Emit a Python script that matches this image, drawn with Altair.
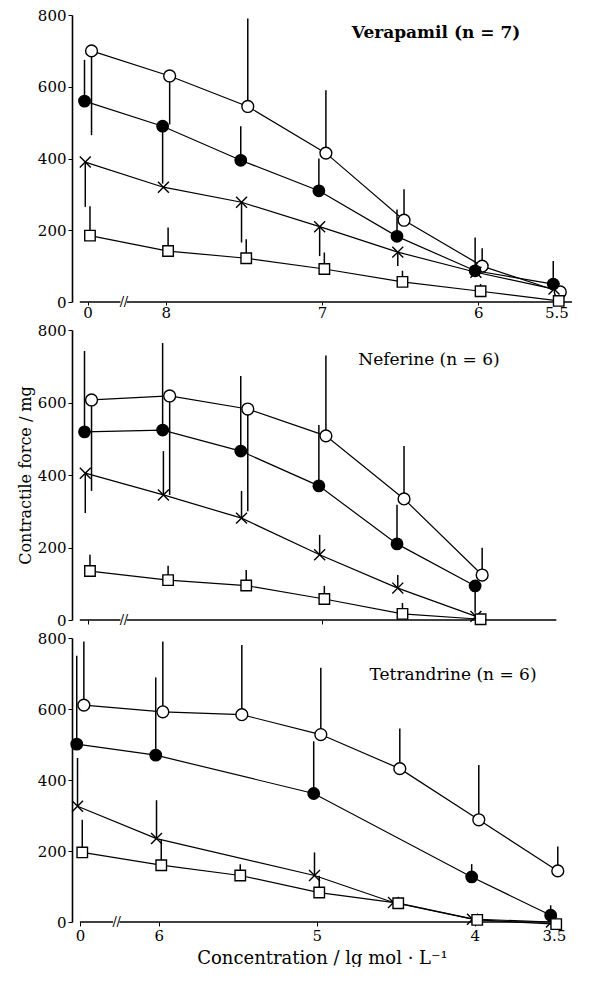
import altair as alt
import pandas as pd

FONT = "DejaVu Serif"
SERIES = ["open", "filled", "cross", "square"]

# ---------------- Verapamil (n = 7) ----------------
V_TITLE = "Verapamil (n = 7)"
V_POS = [0, 1, 2, 3, 4, 5, 6]
V_LABELS = ["0", "8", "", "7", "", "6", "5.5"]
V_OPEN = [700, 630, 545, 415, 228, 100, 28]
V_OPEN_END = [465, 495, 790, 590, 314, 150, None]
V_FILLED = [560, 490, 395, 310, 183, 87, 50]
V_FILLED_END = [675, 330, 490, 400, 258, 180, 114]
V_CROSS = [390, 320, 278, 210, 139, 83, 36]
V_CROSS_END = [265, None, 166, 128, 100, None, None]
V_SQUARE = [185, 142, 122, 92, 56, 30, 3]
V_SQUARE_END = [267, 208, 175, 138, 87, 50, None]

# ---------------- Neferine (n = 6) ----------------
N_TITLE = "Neferine (n = 6)"
N_POS = [0, 1, 2, 3, 4, 5]
N_LABELS = ["", "", "", "", "", ""]
N_OPEN = [607, 618, 582, 508, 334, 124]
N_OPEN_END = [356, 345, 300, 730, 480, 199]
N_FILLED = [519, 524, 466, 370, 210, 94]
N_FILLED_END = [742, 764, 673, 538, 318, 20]
N_CROSS = [405, 345, 281, 180, 88, 10]
N_CROSS_END = [295, 466, 356, 235, 124, None]
N_SQUARE = [135, 110, 95, 58, 17, 2]
N_SQUARE_END = [180, 150, 138, 94, 47, None]

# ---------------- Tetrandrine (n = 6) ----------------
T_TITLE = "Tetrandrine (n = 6)"
T_POS = [0, 1, 2, 3, 4, 5, 6]
T_LABELS = ["0", "6", "", "5", "", "4", "3.5"]
T_OPEN = [611, 592, 584, 528, 432, 288, 144]
T_OPEN_END = [790, 790, 780, 716, 545, 442, 213]
T_FILLED = [501, 470, None, 362, None, 127, 19]
T_FILLED_END = [750, 689, None, 509, None, 163, 47]
T_CROSS = [326, 235, None, 131, 55, 8, 0]
T_CROSS_END = [462, 343, None, 196, None, None, None]
T_SQUARE = [196, 160, 131, 83, 53, 6, -6]
T_SQUARE_END = [288, 232, 163, 130, None, None, None]

Y_TICKS = [0, 200, 400, 600, 800]
Y_TITLE = "Contractile force / mg"
X_TITLE = "Concentration / lg mol · L⁻¹"

# styling (not data)
SHIFT = {"open": 0.05, "filled": -0.04, "cross": -0.03, "square": 0.03}
SHAPES = ["circle", "circle", "M-1,-1L1,1M-1,1L1,-1", "square"]
FILLS = ["white", "black", "transparent", "white"]
SIZES = [140, 110, 65, 85]
W = 500


def build_df(pos, series_vals):
    rows = []
    for name, (vals, ends) in zip(SERIES, series_vals):
        for p, v, e in zip(pos, vals, ends):
            if v is None:
                continue
            rows.append({"pos": p, "series": name, "value": v,
                         "end": e, "xs": p + SHIFT[name]})
    return pd.DataFrame(rows)


def panel(pos, labels, series_vals, title, title_xy, height, x_domain,
          axis_end, show_labels, y_title=None, x_title=None, bold=False,
          tick_size=4, label_pad=2):
    df = build_df(pos, series_vals)
    label_expr = "[" + ",".join("'%s'" % s for s in labels) + "][datum.value]"
    if show_labels:
        tick_vals = [p for p, s in zip(pos, labels) if s != ""]
    else:
        tick_vals = [pos[0], pos[3], pos[5]]
    xaxis = alt.Axis(values=tick_vals, labelExpr=label_expr, domain=False,
                     grid=False, tickSize=tick_size, tickColor="black",
                     labels=show_labels, labelFontSize=15, labelPadding=label_pad,
                     labelColor="black", labelFont=FONT, labelFlush=False,
                     title=x_title, titleFontSize=18, titleFont=FONT,
                     titleFontWeight="normal", titlePadding=6, titleColor="black")
    yaxis_kw = dict(values=Y_TICKS, grid=False, tickSize=4, tickColor="black",
                    domainColor="black", domainWidth=1.6, labelFontSize=15,
                    labelPadding=2, labelColor="black", labelFont=FONT)
    if y_title:
        yaxis = alt.Axis(title=y_title, titleFont=FONT, titleFontSize=16,
                         titleFontWeight="normal", titleColor="black",
                         titlePadding=4, **yaxis_kw)
    else:
        yaxis = alt.Axis(title=None, **yaxis_kw)
    xscale = alt.Scale(domain=x_domain, nice=False, zero=False)
    yscale = alt.Scale(domain=[0, 800], nice=False)

    X = alt.X("xs:Q", scale=xscale, axis=xaxis)
    Y = alt.Y("value:Q", scale=yscale, axis=yaxis)

    base = alt.Chart(df)
    lines = base.mark_line(color="black", strokeWidth=1.2).encode(
        x=X, y=Y, detail="series:N", order="pos:Q")
    errs = base.transform_filter("isValid(datum.end)").mark_rule(
        color="black", strokeWidth=1.5).encode(x=X, y=Y, y2="end:Q")
    pts = base.mark_point(filled=True, stroke="black", strokeWidth=1.4,
                          opacity=1).encode(
        x=X, y=Y,
        shape=alt.Shape("series:N", scale=alt.Scale(domain=SERIES, range=SHAPES), legend=None),
        fill=alt.Fill("series:N", scale=alt.Scale(domain=SERIES, range=FILLS), legend=None),
        size=alt.Size("series:N", scale=alt.Scale(domain=SERIES, range=SIZES), legend=None),
    )
    seg = pd.DataFrame({"x0": [x_domain[0] + 0.1, 0.5], "x1": [0.42, axis_end],
                        "value": [0, 0]})
    axis_line = alt.Chart(seg).mark_rule(color="black", strokeWidth=1.6).encode(
        x=alt.X("x0:Q", scale=xscale, axis=xaxis), x2="x1:Q", y=Y)
    brk = pd.DataFrame({"xs": [0.44, 0.49], "value": [0, 0]})
    slashes = alt.Chart(brk).mark_text(text="/", fontSize=13, font=FONT,
                                       color="black").encode(x=X, y=Y)
    ttl = alt.Chart(pd.DataFrame({"t": [title]})).mark_text(
        font=FONT, fontSize=17, color="black",
        fontWeight="bold" if bold else "normal").encode(
        text="t:N", x=alt.value(title_xy[0]), y=alt.value(title_xy[1]))
    return alt.layer(axis_line, slashes, lines, errs, pts, ttl).properties(
        width=W, height=height)


p1 = panel(V_POS, V_LABELS,
           [(V_OPEN, V_OPEN_END), (V_FILLED, V_FILLED_END),
            (V_CROSS, V_CROSS_END), (V_SQUARE, V_SQUARE_END)],
           V_TITLE, (364, 18), 287, [-0.2, 6.2], 6.2, True, bold=True,
           tick_size=3, label_pad=0)
p2 = panel(N_POS, N_LABELS,
           [(N_OPEN, N_OPEN_END), (N_FILLED, N_FILLED_END),
            (N_CROSS, N_CROSS_END), (N_SQUARE, N_SQUARE_END)],
           N_TITLE, (357, 30), 290, [-0.2, 6.2], 6.0, False, y_title=Y_TITLE)
p3 = panel(T_POS, T_LABELS,
           [(T_OPEN, T_OPEN_END), (T_FILLED, T_FILLED_END),
            (T_CROSS, T_CROSS_END), (T_SQUARE, T_SQUARE_END)],
           T_TITLE, (381, 37), 284, [-0.1, 6.23], 6.1, True, x_title=X_TITLE)

chart = alt.vconcat(p1, p2, p3, spacing=3).properties(
    padding={"left": 9, "top": 0, "right": 4, "bottom": 0}
).configure(background="white").configure_view(stroke=None)

chart.save("out.html", embed_options={"renderer": "svg", "actions": False})
